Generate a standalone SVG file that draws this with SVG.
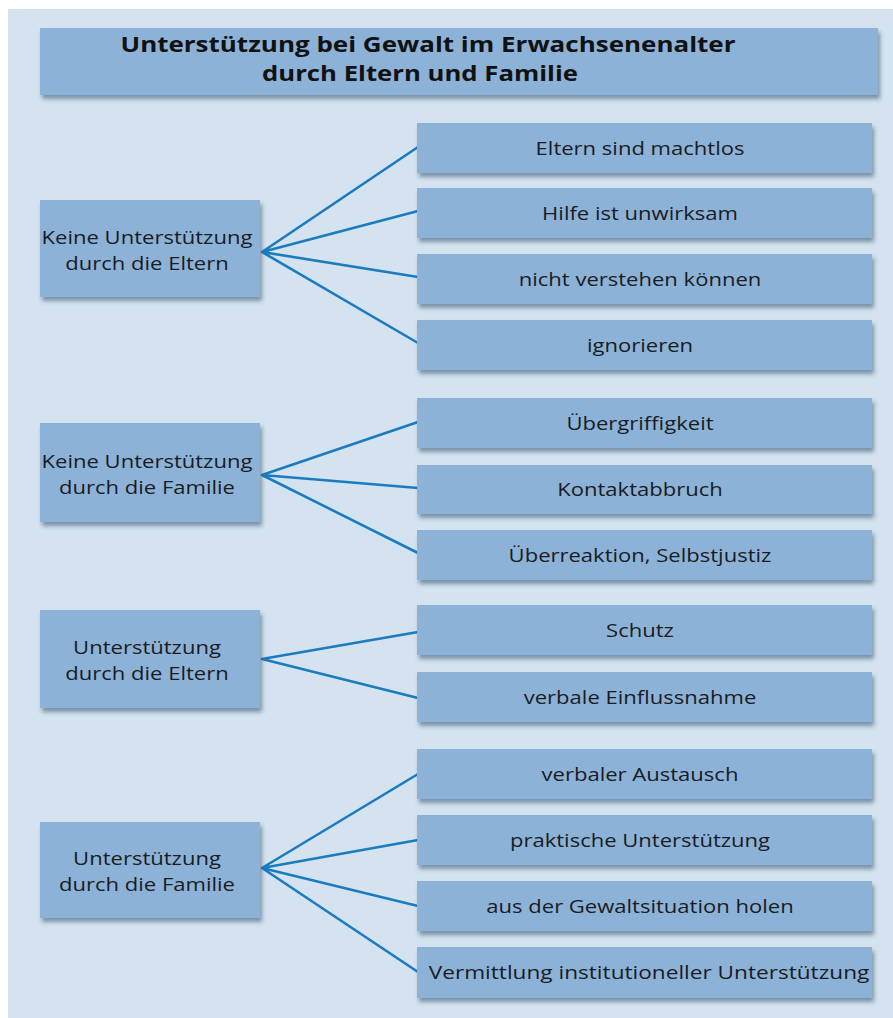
<svg xmlns="http://www.w3.org/2000/svg" width="893" height="1018" viewBox="0 0 893 1018">
<defs>
<filter id="sh" x="-10%" y="-20%" width="125%" height="160%">
<feDropShadow dx="2" dy="4" stdDeviation="2.2" flood-color="#2f4f6e" flood-opacity="0.55"/>
</filter>
<style>
.bx{fill:#8cb2d8;filter:url(#sh)}
.t{font-family:"Open Sans","Noto Sans",sans-serif;font-size:19px;fill:#1a1c22;text-anchor:middle}
.tt{font-family:"Open Sans","Noto Sans",sans-serif;font-size:21px;font-weight:bold;fill:#111;text-anchor:middle}
.ln{stroke:#1b7bbf;stroke-width:2.6;fill:none;stroke-linecap:round}
</style>
</defs>
<rect x="0" y="0" width="893" height="1018" fill="#ffffff"/>
<rect x="8" y="9" width="885" height="1009" fill="#d4e3ef"/>
<g id="connectors">
<path class="ln" d="M262 252L418 147M262 252L418 211M262 252L418 277M262 252L418 343"/>
<path class="ln" d="M262 475L418 422M262 475L418 488M262 475L418 553"/>
<path class="ln" d="M262 659L418 632M262 659L418 698"/>
<path class="ln" d="M262 868L418 774M262 868L418 840M262 868L418 906M262 868L418 972"/>
</g>
<g id="title"><rect class="bx" x="40" y="28" width="838" height="67"/>
<text class="tt" x="428" y="52" textLength="615" lengthAdjust="spacingAndGlyphs">Unterstützung bei Gewalt im Erwachsenenalter</text>
<text class="tt" x="420" y="81" textLength="316" lengthAdjust="spacingAndGlyphs">durch Eltern und Familie</text></g>
<g id="l1"><rect class="bx" x="40" y="200" width="220" height="97"/>
<text class="t" transform="translate(147 244) scale(1.16 1)">Keine Unterstützung</text><text class="t" transform="translate(147 270) scale(1.16 1)">durch die Eltern</text></g>
<g id="l2"><rect class="bx" x="40" y="423" width="220" height="99"/>
<text class="t" transform="translate(147 468) scale(1.16 1)">Keine Unterstützung</text><text class="t" transform="translate(147 494) scale(1.16 1)">durch die Familie</text></g>
<g id="l3"><rect class="bx" x="40" y="610" width="220" height="98"/>
<text class="t" transform="translate(147 654) scale(1.16 1)">Unterstützung</text><text class="t" transform="translate(147 680) scale(1.16 1)">durch die Eltern</text></g>
<g id="l4"><rect class="bx" x="40" y="822" width="220" height="96"/>
<text class="t" transform="translate(147 865) scale(1.16 1)">Unterstützung</text><text class="t" transform="translate(147 891) scale(1.16 1)">durch die Familie</text></g>
<g id="r1"><rect class="bx" x="417" y="123" width="455" height="50"/><text class="t" transform="translate(640 155) scale(1.16 1)">Eltern sind machtlos</text></g>
<g id="r2"><rect class="bx" x="417" y="188" width="455" height="50"/><text class="t" transform="translate(640 220) scale(1.16 1)">Hilfe ist unwirksam</text></g>
<g id="r3"><rect class="bx" x="417" y="254" width="455" height="50"/><text class="t" transform="translate(640 286) scale(1.16 1)">nicht verstehen können</text></g>
<g id="r4"><rect class="bx" x="417" y="320" width="455" height="50"/><text class="t" transform="translate(640 352) scale(1.16 1)">ignorieren</text></g>
<g id="r5"><rect class="bx" x="417" y="398" width="455" height="50"/><text class="t" transform="translate(640 430) scale(1.16 1)">Übergriffigkeit</text></g>
<g id="r6"><rect class="bx" x="417" y="465" width="455" height="49"/><text class="t" transform="translate(640 496) scale(1.16 1)">Kontaktabbruch</text></g>
<g id="r7"><rect class="bx" x="417" y="530" width="455" height="50"/><text class="t" transform="translate(640 562) scale(1.16 1)">Überreaktion, Selbstjustiz</text></g>
<g id="r8"><rect class="bx" x="417" y="605" width="455" height="50"/><text class="t" transform="translate(640 637) scale(1.16 1)">Schutz</text></g>
<g id="r9"><rect class="bx" x="417" y="672" width="455" height="50"/><text class="t" transform="translate(640 704) scale(1.16 1)">verbale Einflussnahme</text></g>
<g id="r10"><rect class="bx" x="417" y="749" width="455" height="50"/><text class="t" transform="translate(640 781) scale(1.16 1)">verbaler Austausch</text></g>
<g id="r11"><rect class="bx" x="417" y="815" width="455" height="50"/><text class="t" transform="translate(640 847) scale(1.16 1)">praktische Unterstützung</text></g>
<g id="r12"><rect class="bx" x="417" y="881" width="455" height="50"/><text class="t" transform="translate(640 913) scale(1.16 1)">aus der Gewaltsituation holen</text></g>
<g id="r13"><rect class="bx" x="417" y="947" width="455" height="51"/><text class="t" transform="translate(649 979) scale(1.19 1)">Vermittlung institutioneller Unterstützung</text></g>
</svg>
